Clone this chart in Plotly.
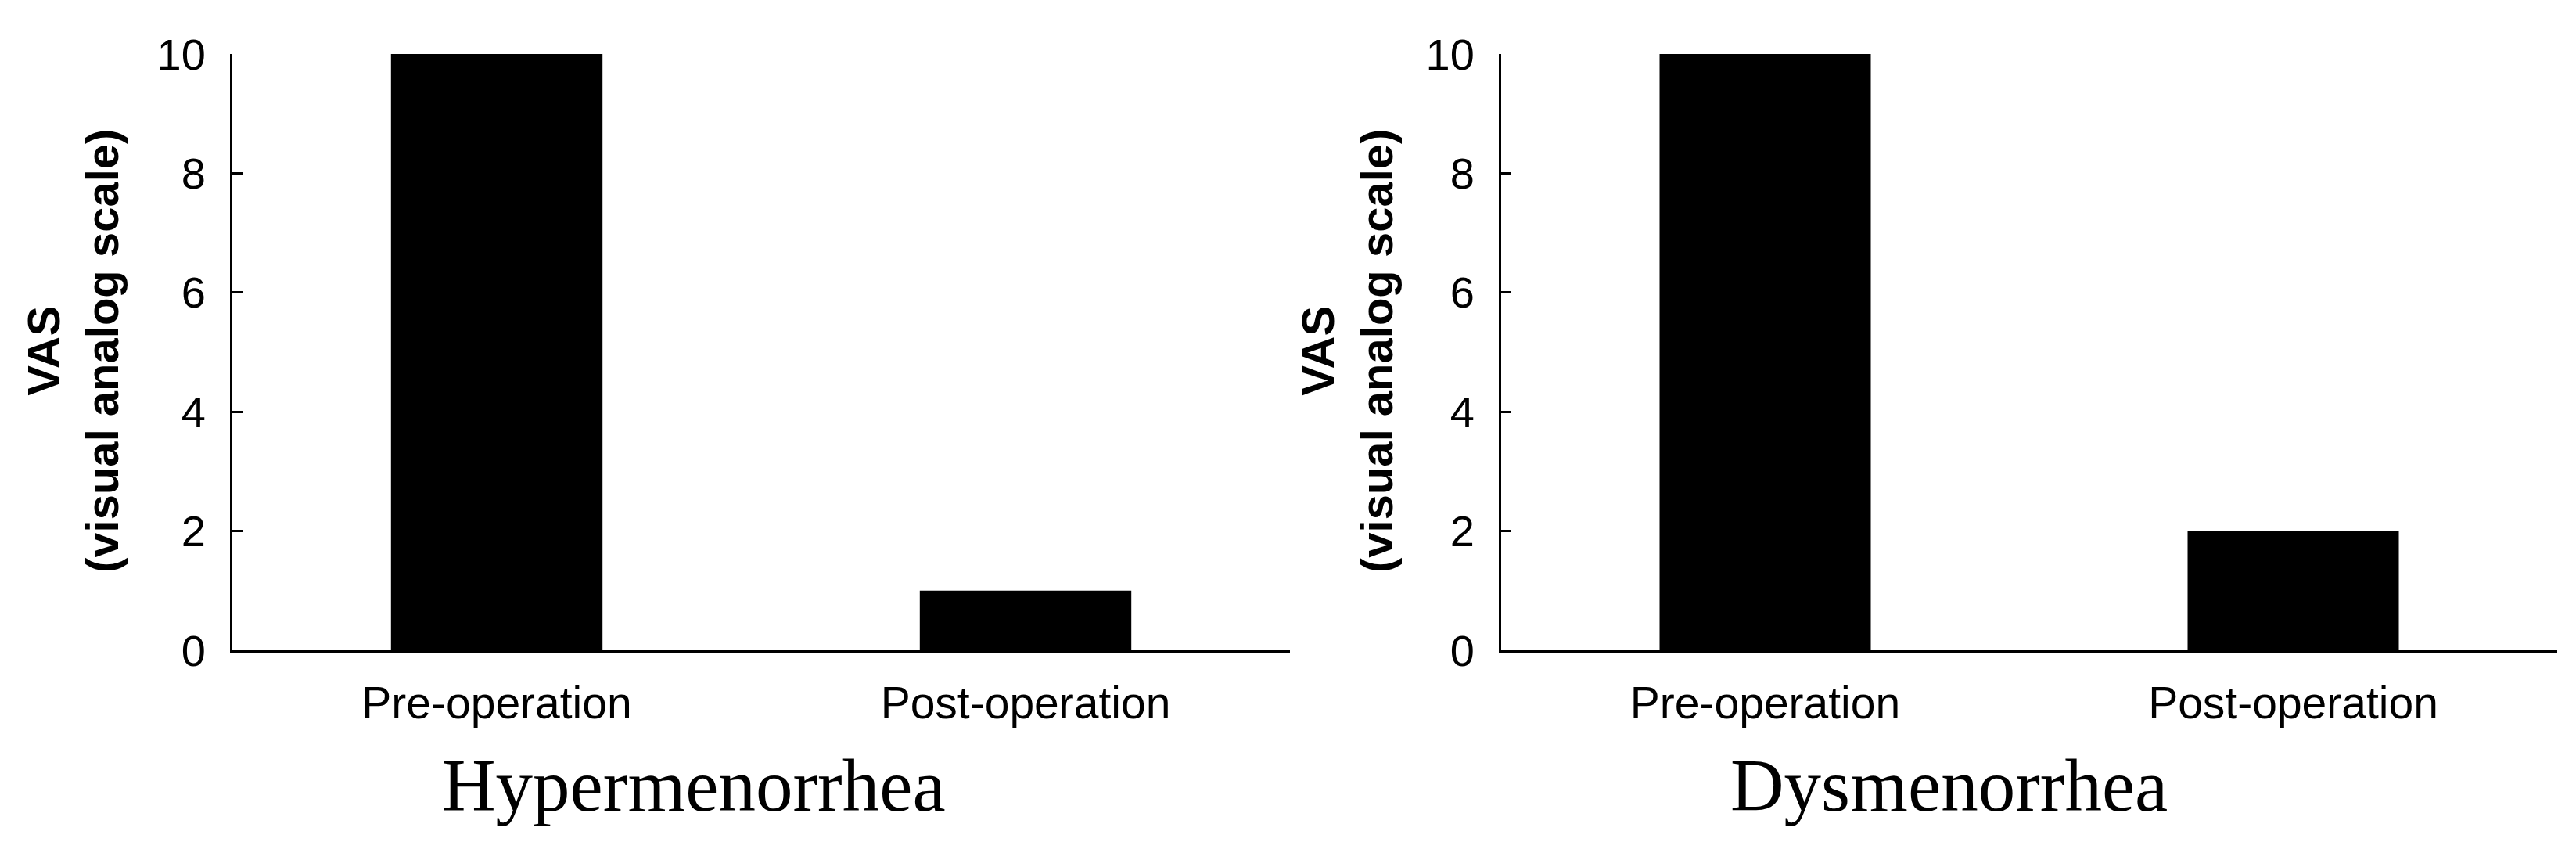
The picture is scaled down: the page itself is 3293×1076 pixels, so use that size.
import plotly.graph_objects as go

categories = ["Pre-operation", "Post-operation"]
hypermenorrhea_vas = [10, 1]
dysmenorrhea_vas = [10, 2]
panel_titles = ["Hypermenorrhea", "Dysmenorrhea"]
y_ticks = [0, 2, 4, 6, 8, 10]

# page is 3293x1076; the html body has an 8px margin on each side
PAGE_MARGIN = 8
W, H = 3293 - 2 * PAGE_MARGIN, 1076 - 2 * PAGE_MARGIN
sans = "Liberation Sans, Arial, sans-serif"
serif = "Liberation Serif, Times New Roman, serif"

fig = go.Figure()
fig.add_trace(go.Bar(x=categories, y=hypermenorrhea_vas, xaxis="x", yaxis="y",
                     marker=dict(color="black", line=dict(width=0)), showlegend=False))
fig.add_trace(go.Bar(x=categories, y=dysmenorrhea_vas, xaxis="x2", yaxis="y2",
                     marker=dict(color="black", line=dict(width=0)), showlegend=False))

def px_x(p):
    return (p - PAGE_MARGIN) / W

def px_y(p):
    return 1 - (p - PAGE_MARGIN) / H

common_x = dict(showline=True, linecolor="black", linewidth=3, ticks="",
                tickfont=dict(family=sans, size=57, color="black"),
                showgrid=False, zeroline=False, ticklabelstandoff=16,
                range=[-0.5, 1.5], automargin=False)
common_y = dict(showline=True, linecolor="black", linewidth=3, ticks="inside",
                ticklen=13, tickwidth=3, tickcolor="black",
                tickvals=y_ticks, range=[0, 10],
                tickfont=dict(family=sans, size=56, color="black"),
                showgrid=False, zeroline=False, ticklabelstandoff=20,
                automargin=False)

fig.update_layout(
    width=W, height=H,
    margin=dict(l=0, r=0, t=0, b=0, autoexpand=False),
    paper_bgcolor="white", plot_bgcolor="white",
    bargap=0.6,
    xaxis=dict(domain=[px_x(297), px_x(1649)], anchor="y", **common_x),
    yaxis=dict(domain=[px_y(831), px_y(69)], anchor="x", **common_y),
    xaxis2=dict(domain=[px_x(1919), px_x(3269)], anchor="y2", **common_x),
    yaxis2=dict(domain=[px_y(831), px_y(69)], anchor="x2", **common_y),
)

ytitle = "<b>VAS</b><br><b>(visual analog scale)</b>"
for xc in [93, 1722]:
    fig.add_annotation(text=ytitle, xref="paper", yref="paper",
                       x=px_x(xc), y=px_y(449), xanchor="center", yanchor="middle",
                       textangle=-90, showarrow=False,
                       font=dict(family=sans, size=58, color="black"))

for xc, t in zip([887, 2491], panel_titles):
    fig.add_annotation(text=t, xref="paper", yref="paper",
                       x=px_x(xc), y=px_y(1004), xanchor="center", yanchor="middle",
                       showarrow=False,
                       font=dict(family=serif, size=95, color="black"))

fig.write_html("out.html")
